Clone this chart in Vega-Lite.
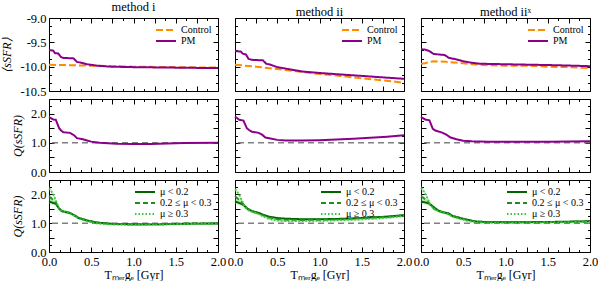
{
"$schema": "https://vega.github.io/schema/vega-lite/v6.json",
"padding": 0,
"config": {
 "font": "Liberation Serif",
 "view": {"stroke": "#000", "strokeWidth": 1},
 "axis": {"domain": false, "grid": false, "tickSize": -5, "tickColor": "#000", "tickWidth": 1, "labelPadding": 8, "labelFont": "Liberation Serif", "labelFontSize": 12.5, "labelColor": "#000", "labelFlush": false, "labelOverlap": false, "titleFont": "Liberation Serif", "titleFontSize": 12, "titleFontWeight": "normal", "titleColor": "#000", "titlePadding": 6, "minExtent": 0},
 "axisX": {"minExtent": 0, "titlePadding": 2},
 "axisY": {"minExtent": 0},
 "legend": {"labelFont": "Liberation Serif", "labelFontSize": 10, "labelColor": "#000", "rowPadding": 0, "padding": 0, "offset": 6},
 "title": {"font": "Liberation Serif", "fontSize": 12.5, "fontWeight": "normal", "anchor": "middle", "offset": -1, "color": "#000"}
},
"datasets": {
 "r1": [
  {"m":"i","s":"Control","T":0,"v":-9.96},{"m":"i","s":"Control","T":0.25,"v":-9.97},{"m":"i","s":"Control","T":0.5,"v":-9.98},{"m":"i","s":"Control","T":0.75,"v":-9.99},{"m":"i","s":"Control","T":1,"v":-10},{"m":"i","s":"Control","T":1.5,"v":-10.01},{"m":"i","s":"Control","T":2,"v":-10.02},
  {"m":"i","s":"PM","T":0,"v":-9.66},{"m":"i","s":"PM","T":0.05,"v":-9.67},{"m":"i","s":"PM","T":0.07,"v":-9.72},{"m":"i","s":"PM","T":0.11,"v":-9.73},{"m":"i","s":"PM","T":0.14,"v":-9.8},{"m":"i","s":"PM","T":0.17,"v":-9.82},{"m":"i","s":"PM","T":0.29,"v":-9.83},{"m":"i","s":"PM","T":0.33,"v":-9.9},{"m":"i","s":"PM","T":0.38,"v":-9.92},{"m":"i","s":"PM","T":0.45,"v":-9.95},{"m":"i","s":"PM","T":0.57,"v":-9.98},{"m":"i","s":"PM","T":0.73,"v":-10},{"m":"i","s":"PM","T":1,"v":-10.01},{"m":"i","s":"PM","T":1.5,"v":-10.02},{"m":"i","s":"PM","T":2,"v":-10.03},
  {"m":"ii","s":"Control","T":0,"v":-9.96},{"m":"ii","s":"Control","T":0.25,"v":-10},{"m":"ii","s":"Control","T":0.5,"v":-10.05},{"m":"ii","s":"Control","T":0.75,"v":-10.1},{"m":"ii","s":"Control","T":1,"v":-10.15},{"m":"ii","s":"Control","T":1.25,"v":-10.19},{"m":"ii","s":"Control","T":1.5,"v":-10.24},{"m":"ii","s":"Control","T":1.75,"v":-10.28},{"m":"ii","s":"Control","T":2,"v":-10.33},
  {"m":"ii","s":"PM","T":0,"v":-9.68},{"m":"ii","s":"PM","T":0.07,"v":-9.69},{"m":"ii","s":"PM","T":0.09,"v":-9.73},{"m":"ii","s":"PM","T":0.13,"v":-9.75},{"m":"ii","s":"PM","T":0.16,"v":-9.84},{"m":"ii","s":"PM","T":0.2,"v":-9.86},{"m":"ii","s":"PM","T":0.33,"v":-9.87},{"m":"ii","s":"PM","T":0.37,"v":-9.94},{"m":"ii","s":"PM","T":0.42,"v":-9.96},{"m":"ii","s":"PM","T":0.5,"v":-10.01},{"m":"ii","s":"PM","T":0.6,"v":-10.04},{"m":"ii","s":"PM","T":0.8,"v":-10.1},{"m":"ii","s":"PM","T":1,"v":-10.13},{"m":"ii","s":"PM","T":1.25,"v":-10.16},{"m":"ii","s":"PM","T":1.5,"v":-10.19},{"m":"ii","s":"PM","T":1.75,"v":-10.22},{"m":"ii","s":"PM","T":2,"v":-10.25},
  {"m":"iix","s":"Control","T":0,"v":-9.94},{"m":"iix","s":"Control","T":0.05,"v":-9.93},{"m":"iix","s":"Control","T":0.1,"v":-9.9},{"m":"iix","s":"Control","T":0.15,"v":-9.89},{"m":"iix","s":"Control","T":0.3,"v":-9.9},{"m":"iix","s":"Control","T":0.45,"v":-9.92},{"m":"iix","s":"Control","T":0.6,"v":-9.95},{"m":"iix","s":"Control","T":0.8,"v":-9.97},{"m":"iix","s":"Control","T":1,"v":-9.98},{"m":"iix","s":"Control","T":1.25,"v":-9.98},{"m":"iix","s":"Control","T":1.5,"v":-10},{"m":"iix","s":"Control","T":1.75,"v":-10.01},{"m":"iix","s":"Control","T":2,"v":-10.03},
  {"m":"iix","s":"PM","T":0,"v":-9.64},{"m":"iix","s":"PM","T":0.05,"v":-9.65},{"m":"iix","s":"PM","T":0.1,"v":-9.68},{"m":"iix","s":"PM","T":0.15,"v":-9.74},{"m":"iix","s":"PM","T":0.28,"v":-9.76},{"m":"iix","s":"PM","T":0.33,"v":-9.82},{"m":"iix","s":"PM","T":0.42,"v":-9.85},{"m":"iix","s":"PM","T":0.5,"v":-9.89},{"m":"iix","s":"PM","T":0.6,"v":-9.92},{"m":"iix","s":"PM","T":0.7,"v":-9.94},{"m":"iix","s":"PM","T":1,"v":-9.95},{"m":"iix","s":"PM","T":1.3,"v":-9.96},{"m":"iix","s":"PM","T":1.6,"v":-9.97},{"m":"iix","s":"PM","T":2,"v":-9.99}
 ],
 "r2": [
  {"m":"i","T":0,"v":1.88},{"m":"i","T":0.05,"v":1.8},{"m":"i","T":0.08,"v":1.79},{"m":"i","T":0.12,"v":1.5},{"m":"i","T":0.14,"v":1.43},{"m":"i","T":0.17,"v":1.36},{"m":"i","T":0.25,"v":1.34},{"m":"i","T":0.3,"v":1.25},{"m":"i","T":0.33,"v":1.16},{"m":"i","T":0.4,"v":1.12},{"m":"i","T":0.45,"v":1.08},{"m":"i","T":0.5,"v":1.04},{"m":"i","T":0.55,"v":1.02},{"m":"i","T":0.6,"v":1},{"m":"i","T":0.8,"v":0.97},{"m":"i","T":1,"v":0.96},{"m":"i","T":1.2,"v":0.96},{"m":"i","T":1.4,"v":0.98},{"m":"i","T":1.6,"v":0.99},{"m":"i","T":2,"v":1},
  {"m":"ii","T":0,"v":1.9},{"m":"ii","T":0.05,"v":1.79},{"m":"ii","T":0.1,"v":1.76},{"m":"ii","T":0.14,"v":1.5},{"m":"ii","T":0.17,"v":1.43},{"m":"ii","T":0.2,"v":1.38},{"m":"ii","T":0.28,"v":1.34},{"m":"ii","T":0.32,"v":1.28},{"m":"ii","T":0.36,"v":1.18},{"m":"ii","T":0.42,"v":1.15},{"m":"ii","T":0.5,"v":1.1},{"m":"ii","T":0.6,"v":1.08},{"m":"ii","T":0.8,"v":1.08},{"m":"ii","T":1,"v":1.09},{"m":"ii","T":1.2,"v":1.11},{"m":"ii","T":1.4,"v":1.14},{"m":"ii","T":1.6,"v":1.17},{"m":"ii","T":1.8,"v":1.21},{"m":"ii","T":2,"v":1.26},
  {"m":"iix","T":0,"v":1.88},{"m":"iix","T":0.05,"v":1.8},{"m":"iix","T":0.1,"v":1.77},{"m":"iix","T":0.14,"v":1.48},{"m":"iix","T":0.17,"v":1.42},{"m":"iix","T":0.25,"v":1.35},{"m":"iix","T":0.3,"v":1.28},{"m":"iix","T":0.35,"v":1.18},{"m":"iix","T":0.42,"v":1.12},{"m":"iix","T":0.5,"v":1.07},{"m":"iix","T":0.6,"v":1.05},{"m":"iix","T":0.8,"v":1.04},{"m":"iix","T":1,"v":1.04},{"m":"iix","T":1.5,"v":1.04},{"m":"iix","T":2,"v":1.05}
 ],
 "r3": [
  {"m":"i","s":"a","T":0,"v":1.76,"lo":1.67,"hi":1.85},{"m":"i","s":"a","T":0.05,"v":1.7,"lo":1.63,"hi":1.77},{"m":"i","s":"a","T":0.08,"v":1.68,"lo":1.61,"hi":1.75},{"m":"i","s":"a","T":0.12,"v":1.5,"lo":1.45,"hi":1.55},{"m":"i","s":"a","T":0.15,"v":1.42,"lo":1.37,"hi":1.47},{"m":"i","s":"a","T":0.25,"v":1.35,"lo":1.31,"hi":1.39},{"m":"i","s":"a","T":0.3,"v":1.27,"lo":1.23,"hi":1.31},{"m":"i","s":"a","T":0.35,"v":1.18,"lo":1.14,"hi":1.22},{"m":"i","s":"a","T":0.45,"v":1.1,"lo":1.06,"hi":1.14},{"m":"i","s":"a","T":0.55,"v":1.03,"lo":1,"hi":1.06},{"m":"i","s":"a","T":0.65,"v":1,"lo":0.97,"hi":1.03},{"m":"i","s":"a","T":0.8,"v":0.97,"lo":0.94,"hi":1},{"m":"i","s":"a","T":1,"v":0.96,"lo":0.93,"hi":0.99},{"m":"i","s":"a","T":1.3,"v":0.96,"lo":0.93,"hi":0.99},{"m":"i","s":"a","T":1.6,"v":0.98,"lo":0.95,"hi":1.01},{"m":"i","s":"a","T":2,"v":0.99,"lo":0.96,"hi":1.02},
  {"m":"i","s":"b","T":0,"v":1.93,"lo":1.84,"hi":2.02},{"m":"i","s":"b","T":0.03,"v":1.86,"lo":1.79,"hi":1.93},{"m":"i","s":"b","T":0.08,"v":1.72,"lo":1.65,"hi":1.79},{"m":"i","s":"b","T":0.12,"v":1.52,"lo":1.47,"hi":1.57},{"m":"i","s":"b","T":0.15,"v":1.43,"lo":1.38,"hi":1.48},{"m":"i","s":"b","T":0.25,"v":1.36,"lo":1.32,"hi":1.4},{"m":"i","s":"b","T":0.3,"v":1.28,"lo":1.24,"hi":1.32},{"m":"i","s":"b","T":0.35,"v":1.19,"lo":1.15,"hi":1.23},{"m":"i","s":"b","T":0.45,"v":1.1,"lo":1.06,"hi":1.14},{"m":"i","s":"b","T":0.55,"v":1.03,"lo":1,"hi":1.06},{"m":"i","s":"b","T":0.65,"v":1,"lo":0.97,"hi":1.03},{"m":"i","s":"b","T":0.8,"v":0.97,"lo":0.94,"hi":1},{"m":"i","s":"b","T":1,"v":0.96,"lo":0.93,"hi":0.99},{"m":"i","s":"b","T":1.3,"v":0.97,"lo":0.94,"hi":1},{"m":"i","s":"b","T":1.6,"v":0.99,"lo":0.96,"hi":1.02},{"m":"i","s":"b","T":2,"v":1,"lo":0.97,"hi":1.03},
  {"m":"i","s":"c","T":0,"v":2.2,"lo":2.11,"hi":2.29},{"m":"i","s":"c","T":0.02,"v":2.15,"lo":2.08,"hi":2.22},{"m":"i","s":"c","T":0.05,"v":2,"lo":1.93,"hi":2.07},{"m":"i","s":"c","T":0.08,"v":1.8,"lo":1.73,"hi":1.87},{"m":"i","s":"c","T":0.12,"v":1.52,"lo":1.47,"hi":1.57},{"m":"i","s":"c","T":0.15,"v":1.42,"lo":1.37,"hi":1.47},{"m":"i","s":"c","T":0.25,"v":1.34,"lo":1.3,"hi":1.38},{"m":"i","s":"c","T":0.3,"v":1.26,"lo":1.22,"hi":1.3},{"m":"i","s":"c","T":0.35,"v":1.16,"lo":1.12,"hi":1.2},{"m":"i","s":"c","T":0.45,"v":1.07,"lo":1.03,"hi":1.11},{"m":"i","s":"c","T":0.55,"v":1,"lo":0.97,"hi":1.03},{"m":"i","s":"c","T":0.65,"v":0.97,"lo":0.94,"hi":1},{"m":"i","s":"c","T":0.8,"v":0.95,"lo":0.92,"hi":0.98},{"m":"i","s":"c","T":1,"v":0.94,"lo":0.91,"hi":0.97},{"m":"i","s":"c","T":1.3,"v":0.95,"lo":0.92,"hi":0.98},{"m":"i","s":"c","T":1.6,"v":0.97,"lo":0.94,"hi":1},{"m":"i","s":"c","T":2,"v":0.98,"lo":0.95,"hi":1.01},
  {"m":"ii","s":"a","T":0,"v":1.76,"lo":1.67,"hi":1.85},{"m":"ii","s":"a","T":0.05,"v":1.7,"lo":1.63,"hi":1.77},{"m":"ii","s":"a","T":0.1,"v":1.64,"lo":1.57,"hi":1.71},{"m":"ii","s":"a","T":0.15,"v":1.5,"lo":1.45,"hi":1.55},{"m":"ii","s":"a","T":0.2,"v":1.42,"lo":1.37,"hi":1.47},{"m":"ii","s":"a","T":0.28,"v":1.36,"lo":1.32,"hi":1.4},{"m":"ii","s":"a","T":0.33,"v":1.3,"lo":1.26,"hi":1.34},{"m":"ii","s":"a","T":0.4,"v":1.23,"lo":1.19,"hi":1.27},{"m":"ii","s":"a","T":0.5,"v":1.18,"lo":1.14,"hi":1.22},{"m":"ii","s":"a","T":0.6,"v":1.16,"lo":1.13,"hi":1.19},{"m":"ii","s":"a","T":0.8,"v":1.14,"lo":1.11,"hi":1.17},{"m":"ii","s":"a","T":1,"v":1.14,"lo":1.11,"hi":1.17},{"m":"ii","s":"a","T":1.2,"v":1.15,"lo":1.12,"hi":1.18},{"m":"ii","s":"a","T":1.4,"v":1.17,"lo":1.13,"hi":1.21},{"m":"ii","s":"a","T":1.6,"v":1.2,"lo":1.16,"hi":1.24},{"m":"ii","s":"a","T":1.8,"v":1.23,"lo":1.19,"hi":1.27},{"m":"ii","s":"a","T":2,"v":1.28,"lo":1.24,"hi":1.32},
  {"m":"ii","s":"b","T":0,"v":1.93,"lo":1.84,"hi":2.02},{"m":"ii","s":"b","T":0.03,"v":1.86,"lo":1.79,"hi":1.93},{"m":"ii","s":"b","T":0.08,"v":1.72,"lo":1.65,"hi":1.79},{"m":"ii","s":"b","T":0.12,"v":1.56,"lo":1.51,"hi":1.61},{"m":"ii","s":"b","T":0.16,"v":1.48,"lo":1.43,"hi":1.53},{"m":"ii","s":"b","T":0.22,"v":1.4,"lo":1.36,"hi":1.44},{"m":"ii","s":"b","T":0.28,"v":1.35,"lo":1.31,"hi":1.39},{"m":"ii","s":"b","T":0.33,"v":1.28,"lo":1.24,"hi":1.32},{"m":"ii","s":"b","T":0.4,"v":1.2,"lo":1.16,"hi":1.24},{"m":"ii","s":"b","T":0.5,"v":1.14,"lo":1.1,"hi":1.18},{"m":"ii","s":"b","T":0.6,"v":1.12,"lo":1.09,"hi":1.15},{"m":"ii","s":"b","T":0.8,"v":1.11,"lo":1.08,"hi":1.14},{"m":"ii","s":"b","T":1,"v":1.12,"lo":1.09,"hi":1.15},{"m":"ii","s":"b","T":1.2,"v":1.13,"lo":1.1,"hi":1.16},{"m":"ii","s":"b","T":1.4,"v":1.16,"lo":1.12,"hi":1.2},{"m":"ii","s":"b","T":1.6,"v":1.19,"lo":1.15,"hi":1.23},{"m":"ii","s":"b","T":1.8,"v":1.22,"lo":1.18,"hi":1.26},{"m":"ii","s":"b","T":2,"v":1.27,"lo":1.23,"hi":1.31},
  {"m":"ii","s":"c","T":0,"v":2.17,"lo":2.08,"hi":2.26},{"m":"ii","s":"c","T":0.02,"v":2.12,"lo":2.05,"hi":2.19},{"m":"ii","s":"c","T":0.05,"v":1.98,"lo":1.91,"hi":2.05},{"m":"ii","s":"c","T":0.08,"v":1.8,"lo":1.73,"hi":1.87},{"m":"ii","s":"c","T":0.12,"v":1.55,"lo":1.5,"hi":1.6},{"m":"ii","s":"c","T":0.16,"v":1.45,"lo":1.4,"hi":1.5},{"m":"ii","s":"c","T":0.22,"v":1.38,"lo":1.34,"hi":1.42},{"m":"ii","s":"c","T":0.28,"v":1.32,"lo":1.28,"hi":1.36},{"m":"ii","s":"c","T":0.33,"v":1.24,"lo":1.2,"hi":1.28},{"m":"ii","s":"c","T":0.4,"v":1.15,"lo":1.11,"hi":1.19},{"m":"ii","s":"c","T":0.5,"v":1.09,"lo":1.05,"hi":1.13},{"m":"ii","s":"c","T":0.6,"v":1.07,"lo":1.04,"hi":1.1},{"m":"ii","s":"c","T":0.8,"v":1.07,"lo":1.04,"hi":1.1},{"m":"ii","s":"c","T":1,"v":1.08,"lo":1.05,"hi":1.11},{"m":"ii","s":"c","T":1.2,"v":1.1,"lo":1.07,"hi":1.13},{"m":"ii","s":"c","T":1.4,"v":1.12,"lo":1.08,"hi":1.16},{"m":"ii","s":"c","T":1.6,"v":1.15,"lo":1.11,"hi":1.19},{"m":"ii","s":"c","T":1.8,"v":1.19,"lo":1.15,"hi":1.23},{"m":"ii","s":"c","T":2,"v":1.25,"lo":1.21,"hi":1.29},
  {"m":"iix","s":"a","T":0,"v":1.76,"lo":1.67,"hi":1.85},{"m":"iix","s":"a","T":0.05,"v":1.72,"lo":1.65,"hi":1.79},{"m":"iix","s":"a","T":0.1,"v":1.68,"lo":1.61,"hi":1.75},{"m":"iix","s":"a","T":0.15,"v":1.56,"lo":1.51,"hi":1.61},{"m":"iix","s":"a","T":0.2,"v":1.45,"lo":1.4,"hi":1.5},{"m":"iix","s":"a","T":0.25,"v":1.38,"lo":1.34,"hi":1.42},{"m":"iix","s":"a","T":0.33,"v":1.34,"lo":1.3,"hi":1.38},{"m":"iix","s":"a","T":0.38,"v":1.24,"lo":1.2,"hi":1.28},{"m":"iix","s":"a","T":0.45,"v":1.19,"lo":1.15,"hi":1.23},{"m":"iix","s":"a","T":0.55,"v":1.12,"lo":1.09,"hi":1.15},{"m":"iix","s":"a","T":0.65,"v":1.06,"lo":1.03,"hi":1.09},{"m":"iix","s":"a","T":0.8,"v":1.04,"lo":1.01,"hi":1.07},{"m":"iix","s":"a","T":1,"v":1.04,"lo":1.01,"hi":1.07},{"m":"iix","s":"a","T":1.3,"v":1.04,"lo":1.01,"hi":1.07},{"m":"iix","s":"a","T":1.6,"v":1.05,"lo":1.02,"hi":1.08},{"m":"iix","s":"a","T":2,"v":1.07,"lo":1.04,"hi":1.1},
  {"m":"iix","s":"b","T":0,"v":1.93,"lo":1.84,"hi":2.02},{"m":"iix","s":"b","T":0.03,"v":1.88,"lo":1.81,"hi":1.95},{"m":"iix","s":"b","T":0.08,"v":1.74,"lo":1.67,"hi":1.81},{"m":"iix","s":"b","T":0.12,"v":1.6,"lo":1.55,"hi":1.65},{"m":"iix","s":"b","T":0.16,"v":1.5,"lo":1.45,"hi":1.55},{"m":"iix","s":"b","T":0.22,"v":1.42,"lo":1.38,"hi":1.46},{"m":"iix","s":"b","T":0.3,"v":1.36,"lo":1.32,"hi":1.4},{"m":"iix","s":"b","T":0.38,"v":1.25,"lo":1.21,"hi":1.29},{"m":"iix","s":"b","T":0.45,"v":1.19,"lo":1.15,"hi":1.23},{"m":"iix","s":"b","T":0.55,"v":1.12,"lo":1.09,"hi":1.15},{"m":"iix","s":"b","T":0.65,"v":1.06,"lo":1.03,"hi":1.09},{"m":"iix","s":"b","T":0.8,"v":1.04,"lo":1.01,"hi":1.07},{"m":"iix","s":"b","T":1,"v":1.03,"lo":1,"hi":1.06},{"m":"iix","s":"b","T":1.3,"v":1.03,"lo":1,"hi":1.06},{"m":"iix","s":"b","T":1.6,"v":1.04,"lo":1.01,"hi":1.07},{"m":"iix","s":"b","T":2,"v":1.06,"lo":1.03,"hi":1.09},
  {"m":"iix","s":"c","T":0,"v":2.22,"lo":2.13,"hi":2.31},{"m":"iix","s":"c","T":0.02,"v":2.17,"lo":2.1,"hi":2.24},{"m":"iix","s":"c","T":0.05,"v":2.02,"lo":1.95,"hi":2.09},{"m":"iix","s":"c","T":0.08,"v":1.85,"lo":1.78,"hi":1.92},{"m":"iix","s":"c","T":0.12,"v":1.6,"lo":1.55,"hi":1.65},{"m":"iix","s":"c","T":0.16,"v":1.48,"lo":1.43,"hi":1.53},{"m":"iix","s":"c","T":0.22,"v":1.4,"lo":1.36,"hi":1.44},{"m":"iix","s":"c","T":0.3,"v":1.34,"lo":1.3,"hi":1.38},{"m":"iix","s":"c","T":0.38,"v":1.22,"lo":1.18,"hi":1.26},{"m":"iix","s":"c","T":0.45,"v":1.16,"lo":1.12,"hi":1.2},{"m":"iix","s":"c","T":0.55,"v":1.08,"lo":1.05,"hi":1.11},{"m":"iix","s":"c","T":0.65,"v":1.03,"lo":1,"hi":1.06},{"m":"iix","s":"c","T":0.8,"v":1.01,"lo":0.98,"hi":1.04},{"m":"iix","s":"c","T":1,"v":1.01,"lo":0.98,"hi":1.04},{"m":"iix","s":"c","T":1.3,"v":1.02,"lo":0.99,"hi":1.05},{"m":"iix","s":"c","T":1.6,"v":1.03,"lo":1,"hi":1.06},{"m":"iix","s":"c","T":2,"v":1.05,"lo":1.02,"hi":1.08}
 ]
},
"columns": 3,
"spacing": {"row": 8, "column": 17},
"bounds": "flush",
"align": "each",
"resolve": {"scale": {"color": "independent", "strokeDash": "independent"}},
"concat": [
  {"width":169,"height":73,"title":{"text":"method i"},"data":{"name":"r1"},"transform":[{"filter":"datum.m == 'i'"}],
   "layer":[
    {"mark":{"type":"line","strokeWidth":2},"encoding":{
      "x":{"field":"T","type":"quantitative","scale":{"domain":[0,2],"nice":false},"axis":{"orient":"bottom","values":[0,0.25,0.5,0.75,1,1.25,1.5,1.75,2],"labels":false,"title":null}},
      "y":{"field":"v","type":"quantitative","scale":{"domain":[-10.5,-9],"nice":false},"axis":{"orient":"left","values":[-10.5,-10,-9.5,-9],"labelExpr":"(datum.value < 0 ? '-' : '') + format(abs(datum.value), '.1f')","title":"⟨sSFR⟩","titleFontStyle":"italic"}},
      "color":{"field":"s","type":"nominal","scale":{"domain":["Control","PM"],"range":["#ff8c00","#8b008b"]},"legend":{"title":null,"orient":"top-right","symbolType":"M-2,0H2","symbolSize":100,"symbolStrokeWidth":2,"labelOffset":9}},
      "strokeDash":{"field":"s","type":"nominal","scale":{"domain":["Control","PM"],"range":[[7,3],[1,0]]},"legend":{"title":null,"orient":"top-right","symbolType":"M-2,0H2","symbolSize":100,"symbolStrokeWidth":2,"labelOffset":9}}}},
    {"mark":{"type":"point","size":0,"opacity":0},"encoding":{"x":{"field":"T","type":"quantitative","axis":{"orient":"top","values":[0,0.25,0.5,0.75,1,1.25,1.5,1.75,2],"labels":false,"title":null}},"y":{"field":"v","type":"quantitative","axis":{"orient":"right","values":[-10.5,-10,-9.5,-9],"labels":false,"title":null}}}},
    {"mark":{"type":"point","size":0,"opacity":0},"encoding":{"x":{"field":"T","type":"quantitative","axis":{"orient":"bottom","values":[0.125,0.375,0.625,0.875,1.125,1.375,1.625,1.875],"labels":false,"title":null,"tickSize":-2.5}},"y":{"field":"v","type":"quantitative","axis":{"orient":"left","values":[-10.3333,-10.1667,-9.8333,-9.6667,-9.3333,-9.1667],"labels":false,"title":null,"tickSize":-2.5}}}},
    {"mark":{"type":"point","size":0,"opacity":0},"encoding":{"x":{"field":"T","type":"quantitative","axis":{"orient":"top","values":[0.125,0.375,0.625,0.875,1.125,1.375,1.625,1.875],"labels":false,"title":null,"tickSize":-2.5}},"y":{"field":"v","type":"quantitative","axis":{"orient":"right","values":[-10.3333,-10.1667,-9.8333,-9.6667,-9.3333,-9.1667],"labels":false,"title":null,"tickSize":-2.5}}}}
   ],
   "resolve":{"axis":{"x":"independent","y":"independent"}}},
  {"width":169,"height":73,"title":{"text":"method ii"},"data":{"name":"r1"},"transform":[{"filter":"datum.m == 'ii'"}],
   "layer":[
    {"mark":{"type":"line","strokeWidth":2},"encoding":{
      "x":{"field":"T","type":"quantitative","scale":{"domain":[0,2],"nice":false},"axis":{"orient":"bottom","values":[0,0.25,0.5,0.75,1,1.25,1.5,1.75,2],"labels":false,"title":null}},
      "y":{"field":"v","type":"quantitative","scale":{"domain":[-10.5,-9],"nice":false},"axis":{"orient":"left","values":[-10.5,-10,-9.5,-9],"labels":false,"title":null}},
      "color":{"field":"s","type":"nominal","scale":{"domain":["Control","PM"],"range":["#ff8c00","#8b008b"]},"legend":{"title":null,"orient":"top-right","symbolType":"M-2,0H2","symbolSize":100,"symbolStrokeWidth":2,"labelOffset":9}},
      "strokeDash":{"field":"s","type":"nominal","scale":{"domain":["Control","PM"],"range":[[7,3],[1,0]]},"legend":{"title":null,"orient":"top-right","symbolType":"M-2,0H2","symbolSize":100,"symbolStrokeWidth":2,"labelOffset":9}}}},
    {"mark":{"type":"point","size":0,"opacity":0},"encoding":{"x":{"field":"T","type":"quantitative","axis":{"orient":"top","values":[0,0.25,0.5,0.75,1,1.25,1.5,1.75,2],"labels":false,"title":null}},"y":{"field":"v","type":"quantitative","axis":{"orient":"right","values":[-10.5,-10,-9.5,-9],"labels":false,"title":null}}}},
    {"mark":{"type":"point","size":0,"opacity":0},"encoding":{"x":{"field":"T","type":"quantitative","axis":{"orient":"bottom","values":[0.125,0.375,0.625,0.875,1.125,1.375,1.625,1.875],"labels":false,"title":null,"tickSize":-2.5}},"y":{"field":"v","type":"quantitative","axis":{"orient":"left","values":[-10.3333,-10.1667,-9.8333,-9.6667,-9.3333,-9.1667],"labels":false,"title":null,"tickSize":-2.5}}}},
    {"mark":{"type":"point","size":0,"opacity":0},"encoding":{"x":{"field":"T","type":"quantitative","axis":{"orient":"top","values":[0.125,0.375,0.625,0.875,1.125,1.375,1.625,1.875],"labels":false,"title":null,"tickSize":-2.5}},"y":{"field":"v","type":"quantitative","axis":{"orient":"right","values":[-10.3333,-10.1667,-9.8333,-9.6667,-9.3333,-9.1667],"labels":false,"title":null,"tickSize":-2.5}}}}
   ],
   "resolve":{"axis":{"x":"independent","y":"independent"}}},
  {"width":169,"height":73,"title":{"text":"method iiˣ"},"data":{"name":"r1"},"transform":[{"filter":"datum.m == 'iix'"}],
   "layer":[
    {"mark":{"type":"line","strokeWidth":2},"encoding":{
      "x":{"field":"T","type":"quantitative","scale":{"domain":[0,2],"nice":false},"axis":{"orient":"bottom","values":[0,0.25,0.5,0.75,1,1.25,1.5,1.75,2],"labels":false,"title":null}},
      "y":{"field":"v","type":"quantitative","scale":{"domain":[-10.5,-9],"nice":false},"axis":{"orient":"left","values":[-10.5,-10,-9.5,-9],"labels":false,"title":null}},
      "color":{"field":"s","type":"nominal","scale":{"domain":["Control","PM"],"range":["#ff8c00","#8b008b"]},"legend":{"title":null,"orient":"top-right","symbolType":"M-2,0H2","symbolSize":100,"symbolStrokeWidth":2,"labelOffset":9}},
      "strokeDash":{"field":"s","type":"nominal","scale":{"domain":["Control","PM"],"range":[[7,3],[1,0]]},"legend":{"title":null,"orient":"top-right","symbolType":"M-2,0H2","symbolSize":100,"symbolStrokeWidth":2,"labelOffset":9}}}},
    {"mark":{"type":"point","size":0,"opacity":0},"encoding":{"x":{"field":"T","type":"quantitative","axis":{"orient":"top","values":[0,0.25,0.5,0.75,1,1.25,1.5,1.75,2],"labels":false,"title":null}},"y":{"field":"v","type":"quantitative","axis":{"orient":"right","values":[-10.5,-10,-9.5,-9],"labels":false,"title":null}}}},
    {"mark":{"type":"point","size":0,"opacity":0},"encoding":{"x":{"field":"T","type":"quantitative","axis":{"orient":"bottom","values":[0.125,0.375,0.625,0.875,1.125,1.375,1.625,1.875],"labels":false,"title":null,"tickSize":-2.5}},"y":{"field":"v","type":"quantitative","axis":{"orient":"left","values":[-10.3333,-10.1667,-9.8333,-9.6667,-9.3333,-9.1667],"labels":false,"title":null,"tickSize":-2.5}}}},
    {"mark":{"type":"point","size":0,"opacity":0},"encoding":{"x":{"field":"T","type":"quantitative","axis":{"orient":"top","values":[0.125,0.375,0.625,0.875,1.125,1.375,1.625,1.875],"labels":false,"title":null,"tickSize":-2.5}},"y":{"field":"v","type":"quantitative","axis":{"orient":"right","values":[-10.3333,-10.1667,-9.8333,-9.6667,-9.3333,-9.1667],"labels":false,"title":null,"tickSize":-2.5}}}}
   ],
   "resolve":{"axis":{"x":"independent","y":"independent"}}},
  {"width":169,"height":73,"data":{"name":"r2"},"transform":[{"filter":"datum.m == 'i'"}],
   "layer":[
    {"data":{"values":[{"m":"i"}]},"mark":{"type":"rule","color":"#808080","strokeWidth":1.5,"strokeDash":[6,4]},"encoding":{"y":{"datum":1,"type":"quantitative","axis":null}}},
    {"mark":{"type":"line","strokeWidth":2,"color":"#8b008b"},"encoding":{
      "x":{"field":"T","type":"quantitative","scale":{"domain":[0,2],"nice":false},"axis":{"orient":"bottom","values":[0,0.25,0.5,0.75,1,1.25,1.5,1.75,2],"labels":false,"title":null}},
      "y":{"field":"v","type":"quantitative","scale":{"domain":[0,2.5],"nice":false},"axis":{"orient":"left","values":[0,0.5,1,1.5,2,2.5],"labelExpr":"datum.value % 1 == 0 ? format(datum.value, '.1f') : ''","title":"Q(sSFR)","titleFontStyle":"italic"}}}},
    {"mark":{"type":"point","size":0,"opacity":0},"encoding":{"x":{"field":"T","type":"quantitative","axis":{"orient":"top","values":[0,0.25,0.5,0.75,1,1.25,1.5,1.75,2],"labels":false,"title":null}},"y":{"field":"v","type":"quantitative","axis":{"orient":"right","values":[0,0.5,1,1.5,2,2.5],"labels":false,"title":null}}}},
    {"mark":{"type":"point","size":0,"opacity":0},"encoding":{"x":{"field":"T","type":"quantitative","axis":{"orient":"bottom","values":[0.125,0.375,0.625,0.875,1.125,1.375,1.625,1.875],"labels":false,"title":null,"tickSize":-2.5}},"y":{"field":"v","type":"quantitative","axis":{"orient":"left","values":[0.25,0.75,1.25,1.75,2.25],"labels":false,"title":null,"tickSize":-2.5}}}},
    {"mark":{"type":"point","size":0,"opacity":0},"encoding":{"x":{"field":"T","type":"quantitative","axis":{"orient":"top","values":[0.125,0.375,0.625,0.875,1.125,1.375,1.625,1.875],"labels":false,"title":null,"tickSize":-2.5}},"y":{"field":"v","type":"quantitative","axis":{"orient":"right","values":[0.25,0.75,1.25,1.75,2.25],"labels":false,"title":null,"tickSize":-2.5}}}}
   ],
   "resolve":{"axis":{"x":"independent","y":"independent"}}},
  {"width":169,"height":73,"data":{"name":"r2"},"transform":[{"filter":"datum.m == 'ii'"}],
   "layer":[
    {"data":{"values":[{"m":"ii"}]},"mark":{"type":"rule","color":"#808080","strokeWidth":1.5,"strokeDash":[6,4]},"encoding":{"y":{"datum":1,"type":"quantitative","axis":null}}},
    {"mark":{"type":"line","strokeWidth":2,"color":"#8b008b"},"encoding":{
      "x":{"field":"T","type":"quantitative","scale":{"domain":[0,2],"nice":false},"axis":{"orient":"bottom","values":[0,0.25,0.5,0.75,1,1.25,1.5,1.75,2],"labels":false,"title":null}},
      "y":{"field":"v","type":"quantitative","scale":{"domain":[0,2.5],"nice":false},"axis":{"orient":"left","values":[0,0.5,1,1.5,2,2.5],"labels":false,"title":null}}}},
    {"mark":{"type":"point","size":0,"opacity":0},"encoding":{"x":{"field":"T","type":"quantitative","axis":{"orient":"top","values":[0,0.25,0.5,0.75,1,1.25,1.5,1.75,2],"labels":false,"title":null}},"y":{"field":"v","type":"quantitative","axis":{"orient":"right","values":[0,0.5,1,1.5,2,2.5],"labels":false,"title":null}}}},
    {"mark":{"type":"point","size":0,"opacity":0},"encoding":{"x":{"field":"T","type":"quantitative","axis":{"orient":"bottom","values":[0.125,0.375,0.625,0.875,1.125,1.375,1.625,1.875],"labels":false,"title":null,"tickSize":-2.5}},"y":{"field":"v","type":"quantitative","axis":{"orient":"left","values":[0.25,0.75,1.25,1.75,2.25],"labels":false,"title":null,"tickSize":-2.5}}}},
    {"mark":{"type":"point","size":0,"opacity":0},"encoding":{"x":{"field":"T","type":"quantitative","axis":{"orient":"top","values":[0.125,0.375,0.625,0.875,1.125,1.375,1.625,1.875],"labels":false,"title":null,"tickSize":-2.5}},"y":{"field":"v","type":"quantitative","axis":{"orient":"right","values":[0.25,0.75,1.25,1.75,2.25],"labels":false,"title":null,"tickSize":-2.5}}}}
   ],
   "resolve":{"axis":{"x":"independent","y":"independent"}}},
  {"width":169,"height":73,"data":{"name":"r2"},"transform":[{"filter":"datum.m == 'iix'"}],
   "layer":[
    {"data":{"values":[{"m":"iix"}]},"mark":{"type":"rule","color":"#808080","strokeWidth":1.5,"strokeDash":[6,4]},"encoding":{"y":{"datum":1,"type":"quantitative","axis":null}}},
    {"mark":{"type":"line","strokeWidth":2,"color":"#8b008b"},"encoding":{
      "x":{"field":"T","type":"quantitative","scale":{"domain":[0,2],"nice":false},"axis":{"orient":"bottom","values":[0,0.25,0.5,0.75,1,1.25,1.5,1.75,2],"labels":false,"title":null}},
      "y":{"field":"v","type":"quantitative","scale":{"domain":[0,2.5],"nice":false},"axis":{"orient":"left","values":[0,0.5,1,1.5,2,2.5],"labels":false,"title":null}}}},
    {"mark":{"type":"point","size":0,"opacity":0},"encoding":{"x":{"field":"T","type":"quantitative","axis":{"orient":"top","values":[0,0.25,0.5,0.75,1,1.25,1.5,1.75,2],"labels":false,"title":null}},"y":{"field":"v","type":"quantitative","axis":{"orient":"right","values":[0,0.5,1,1.5,2,2.5],"labels":false,"title":null}}}},
    {"mark":{"type":"point","size":0,"opacity":0},"encoding":{"x":{"field":"T","type":"quantitative","axis":{"orient":"bottom","values":[0.125,0.375,0.625,0.875,1.125,1.375,1.625,1.875],"labels":false,"title":null,"tickSize":-2.5}},"y":{"field":"v","type":"quantitative","axis":{"orient":"left","values":[0.25,0.75,1.25,1.75,2.25],"labels":false,"title":null,"tickSize":-2.5}}}},
    {"mark":{"type":"point","size":0,"opacity":0},"encoding":{"x":{"field":"T","type":"quantitative","axis":{"orient":"top","values":[0.125,0.375,0.625,0.875,1.125,1.375,1.625,1.875],"labels":false,"title":null,"tickSize":-2.5}},"y":{"field":"v","type":"quantitative","axis":{"orient":"right","values":[0.25,0.75,1.25,1.75,2.25],"labels":false,"title":null,"tickSize":-2.5}}}}
   ],
   "resolve":{"axis":{"x":"independent","y":"independent"}}},
  {"width":169,"height":72,"data":{"name":"r3"},"transform":[{"filter":"datum.m == 'i'"}],
   "layer":[
    {"mark":{"type":"area","color":"#5cbf5c","opacity":0.35},"encoding":{"x":{"field":"T","type":"quantitative","axis":null},"y":{"field":"lo","type":"quantitative","axis":null},"y2":{"field":"hi"},"detail":{"field":"s"}}},
    {"data":{"values":[{"m":"i"}]},"mark":{"type":"rule","color":"#808080","strokeWidth":1.5,"strokeDash":[6,4]},"encoding":{"y":{"datum":1,"type":"quantitative","axis":null}}},
    {"mark":{"type":"line","strokeWidth":1.8},"encoding":{
      "x":{"field":"T","type":"quantitative","scale":{"domain":[0,2],"nice":false},"axis":{"orient":"bottom","values":[0,0.25,0.5,0.75,1,1.25,1.5,1.75,2],"labelExpr":"round(datum.value*4) % 2 == 0 ? format(datum.value, '.1f') : ''","title":"Tₘₑᵣgₑ [Gyr]"}},
      "y":{"field":"v","type":"quantitative","scale":{"domain":[0,2.5],"nice":false},"axis":{"orient":"left","values":[0,0.5,1,1.5,2,2.5],"labelExpr":"datum.value % 1 == 0 ? format(datum.value, '.1f') : ''","title":"Q(sSFR)","titleFontStyle":"italic"}},
      "color":{"field":"s","type":"nominal","scale":{"domain":["a","b","c"],"range":["#006400","#228b22","#32cd32"]},"legend":{"title":null,"orient":"top-right","symbolType":"M-2,0H2","symbolSize":100,"symbolStrokeWidth":2,"labelOffset":9,"labelExpr":"datum.label == 'a' ? 'μ < 0.2' : datum.label == 'b' ? '0.2 ≤ μ < 0.3' : 'μ ≥ 0.3'"}},
      "strokeDash":{"field":"s","type":"nominal","scale":{"domain":["a","b","c"],"range":[[1,0],[5,3],[1.5,2]]},"legend":{"title":null,"orient":"top-right","symbolType":"M-2,0H2","symbolSize":100,"symbolStrokeWidth":2,"labelOffset":9,"labelExpr":"datum.label == 'a' ? 'μ < 0.2' : datum.label == 'b' ? '0.2 ≤ μ < 0.3' : 'μ ≥ 0.3'"}}}},
    {"mark":{"type":"point","size":0,"opacity":0},"encoding":{"x":{"field":"T","type":"quantitative","axis":{"orient":"top","values":[0,0.25,0.5,0.75,1,1.25,1.5,1.75,2],"labels":false,"title":null}},"y":{"field":"v","type":"quantitative","axis":{"orient":"right","values":[0,0.5,1,1.5,2,2.5],"labels":false,"title":null}}}},
    {"mark":{"type":"point","size":0,"opacity":0},"encoding":{"x":{"field":"T","type":"quantitative","axis":{"orient":"bottom","values":[0.125,0.375,0.625,0.875,1.125,1.375,1.625,1.875],"labels":false,"title":null,"tickSize":-2.5}},"y":{"field":"v","type":"quantitative","axis":{"orient":"left","values":[0.25,0.75,1.25,1.75,2.25],"labels":false,"title":null,"tickSize":-2.5}}}},
    {"mark":{"type":"point","size":0,"opacity":0},"encoding":{"x":{"field":"T","type":"quantitative","axis":{"orient":"top","values":[0.125,0.375,0.625,0.875,1.125,1.375,1.625,1.875],"labels":false,"title":null,"tickSize":-2.5}},"y":{"field":"v","type":"quantitative","axis":{"orient":"right","values":[0.25,0.75,1.25,1.75,2.25],"labels":false,"title":null,"tickSize":-2.5}}}}
   ],
   "resolve":{"axis":{"x":"independent","y":"independent"}}},
  {"width":169,"height":72,"data":{"name":"r3"},"transform":[{"filter":"datum.m == 'ii'"}],
   "layer":[
    {"mark":{"type":"area","color":"#5cbf5c","opacity":0.35},"encoding":{"x":{"field":"T","type":"quantitative","axis":null},"y":{"field":"lo","type":"quantitative","axis":null},"y2":{"field":"hi"},"detail":{"field":"s"}}},
    {"data":{"values":[{"m":"ii"}]},"mark":{"type":"rule","color":"#808080","strokeWidth":1.5,"strokeDash":[6,4]},"encoding":{"y":{"datum":1,"type":"quantitative","axis":null}}},
    {"mark":{"type":"line","strokeWidth":1.8},"encoding":{
      "x":{"field":"T","type":"quantitative","scale":{"domain":[0,2],"nice":false},"axis":{"orient":"bottom","values":[0,0.25,0.5,0.75,1,1.25,1.5,1.75,2],"labelExpr":"round(datum.value*4) % 2 == 0 ? format(datum.value, '.1f') : ''","title":"Tₘₑᵣgₑ [Gyr]"}},
      "y":{"field":"v","type":"quantitative","scale":{"domain":[0,2.5],"nice":false},"axis":{"orient":"left","values":[0,0.5,1,1.5,2,2.5],"labels":false,"title":null}},
      "color":{"field":"s","type":"nominal","scale":{"domain":["a","b","c"],"range":["#006400","#228b22","#32cd32"]},"legend":{"title":null,"orient":"top-right","symbolType":"M-2,0H2","symbolSize":100,"symbolStrokeWidth":2,"labelOffset":9,"labelExpr":"datum.label == 'a' ? 'μ < 0.2' : datum.label == 'b' ? '0.2 ≤ μ < 0.3' : 'μ ≥ 0.3'"}},
      "strokeDash":{"field":"s","type":"nominal","scale":{"domain":["a","b","c"],"range":[[1,0],[5,3],[1.5,2]]},"legend":{"title":null,"orient":"top-right","symbolType":"M-2,0H2","symbolSize":100,"symbolStrokeWidth":2,"labelOffset":9,"labelExpr":"datum.label == 'a' ? 'μ < 0.2' : datum.label == 'b' ? '0.2 ≤ μ < 0.3' : 'μ ≥ 0.3'"}}}},
    {"mark":{"type":"point","size":0,"opacity":0},"encoding":{"x":{"field":"T","type":"quantitative","axis":{"orient":"top","values":[0,0.25,0.5,0.75,1,1.25,1.5,1.75,2],"labels":false,"title":null}},"y":{"field":"v","type":"quantitative","axis":{"orient":"right","values":[0,0.5,1,1.5,2,2.5],"labels":false,"title":null}}}},
    {"mark":{"type":"point","size":0,"opacity":0},"encoding":{"x":{"field":"T","type":"quantitative","axis":{"orient":"bottom","values":[0.125,0.375,0.625,0.875,1.125,1.375,1.625,1.875],"labels":false,"title":null,"tickSize":-2.5}},"y":{"field":"v","type":"quantitative","axis":{"orient":"left","values":[0.25,0.75,1.25,1.75,2.25],"labels":false,"title":null,"tickSize":-2.5}}}},
    {"mark":{"type":"point","size":0,"opacity":0},"encoding":{"x":{"field":"T","type":"quantitative","axis":{"orient":"top","values":[0.125,0.375,0.625,0.875,1.125,1.375,1.625,1.875],"labels":false,"title":null,"tickSize":-2.5}},"y":{"field":"v","type":"quantitative","axis":{"orient":"right","values":[0.25,0.75,1.25,1.75,2.25],"labels":false,"title":null,"tickSize":-2.5}}}}
   ],
   "resolve":{"axis":{"x":"independent","y":"independent"}}},
  {"width":169,"height":72,"data":{"name":"r3"},"transform":[{"filter":"datum.m == 'iix'"}],
   "layer":[
    {"mark":{"type":"area","color":"#5cbf5c","opacity":0.35},"encoding":{"x":{"field":"T","type":"quantitative","axis":null},"y":{"field":"lo","type":"quantitative","axis":null},"y2":{"field":"hi"},"detail":{"field":"s"}}},
    {"data":{"values":[{"m":"iix"}]},"mark":{"type":"rule","color":"#808080","strokeWidth":1.5,"strokeDash":[6,4]},"encoding":{"y":{"datum":1,"type":"quantitative","axis":null}}},
    {"mark":{"type":"line","strokeWidth":1.8},"encoding":{
      "x":{"field":"T","type":"quantitative","scale":{"domain":[0,2],"nice":false},"axis":{"orient":"bottom","values":[0,0.25,0.5,0.75,1,1.25,1.5,1.75,2],"labelExpr":"round(datum.value*4) % 2 == 0 ? format(datum.value, '.1f') : ''","title":"Tₘₑᵣgₑ [Gyr]"}},
      "y":{"field":"v","type":"quantitative","scale":{"domain":[0,2.5],"nice":false},"axis":{"orient":"left","values":[0,0.5,1,1.5,2,2.5],"labels":false,"title":null}},
      "color":{"field":"s","type":"nominal","scale":{"domain":["a","b","c"],"range":["#006400","#228b22","#32cd32"]},"legend":{"title":null,"orient":"top-right","symbolType":"M-2,0H2","symbolSize":100,"symbolStrokeWidth":2,"labelOffset":9,"labelExpr":"datum.label == 'a' ? 'μ < 0.2' : datum.label == 'b' ? '0.2 ≤ μ < 0.3' : 'μ ≥ 0.3'"}},
      "strokeDash":{"field":"s","type":"nominal","scale":{"domain":["a","b","c"],"range":[[1,0],[5,3],[1.5,2]]},"legend":{"title":null,"orient":"top-right","symbolType":"M-2,0H2","symbolSize":100,"symbolStrokeWidth":2,"labelOffset":9,"labelExpr":"datum.label == 'a' ? 'μ < 0.2' : datum.label == 'b' ? '0.2 ≤ μ < 0.3' : 'μ ≥ 0.3'"}}}},
    {"mark":{"type":"point","size":0,"opacity":0},"encoding":{"x":{"field":"T","type":"quantitative","axis":{"orient":"top","values":[0,0.25,0.5,0.75,1,1.25,1.5,1.75,2],"labels":false,"title":null}},"y":{"field":"v","type":"quantitative","axis":{"orient":"right","values":[0,0.5,1,1.5,2,2.5],"labels":false,"title":null}}}},
    {"mark":{"type":"point","size":0,"opacity":0},"encoding":{"x":{"field":"T","type":"quantitative","axis":{"orient":"bottom","values":[0.125,0.375,0.625,0.875,1.125,1.375,1.625,1.875],"labels":false,"title":null,"tickSize":-2.5}},"y":{"field":"v","type":"quantitative","axis":{"orient":"left","values":[0.25,0.75,1.25,1.75,2.25],"labels":false,"title":null,"tickSize":-2.5}}}},
    {"mark":{"type":"point","size":0,"opacity":0},"encoding":{"x":{"field":"T","type":"quantitative","axis":{"orient":"top","values":[0.125,0.375,0.625,0.875,1.125,1.375,1.625,1.875],"labels":false,"title":null,"tickSize":-2.5}},"y":{"field":"v","type":"quantitative","axis":{"orient":"right","values":[0.25,0.75,1.25,1.75,2.25],"labels":false,"title":null,"tickSize":-2.5}}}}
   ],
   "resolve":{"axis":{"x":"independent","y":"independent"}}}
]
}
